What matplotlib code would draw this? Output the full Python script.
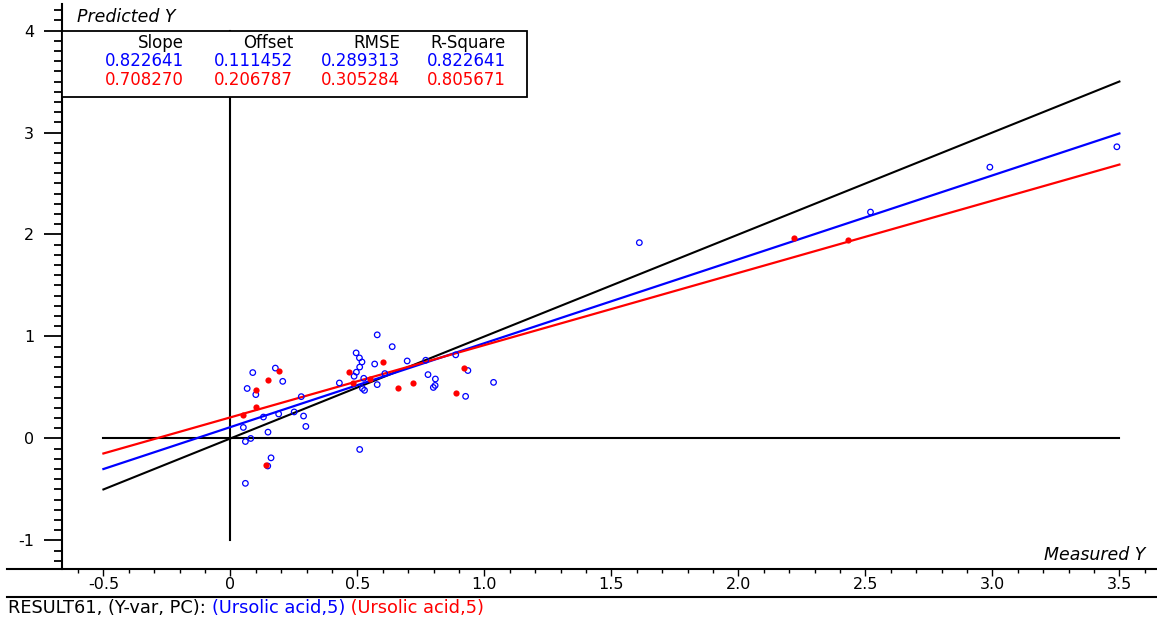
import matplotlib
matplotlib.use("Agg")
import matplotlib.pyplot as plt
import numpy as np
from matplotlib.patches import Rectangle
from matplotlib.lines import Line2D

plt.rcParams['font.family'] = ['DejaVu Sans']
plt.rcParams['axes.unicode_minus'] = False

# measured / predicted values, first series (blue, open circles)
blue_x = [0.088, 0.177, 0.206, 0.066, 0.10, 0.279, 0.13, 0.19, 0.251, 0.288,
          0.297, 0.051, 0.148, 0.059, 0.08, 0.16, 0.147, 0.059,
          0.578, 0.637, 0.495, 0.508, 0.518, 0.568, 0.509, 0.496, 0.487, 0.696,
          0.608, 0.525, 0.429, 0.578, 0.52, 0.528, 0.769, 0.778, 0.807, 0.799,
          0.806, 0.509, 0.935, 1.036, 0.926, 0.887,
          1.61, 2.52, 2.99, 3.49]
blue_y = [0.646, 0.69, 0.56, 0.49, 0.43, 0.41, 0.21, 0.24, 0.26, 0.22,
          0.118, 0.108, 0.062, -0.03, 0.0, -0.19, -0.27, -0.44,
          1.016, 0.90, 0.839, 0.79, 0.75, 0.73, 0.70, 0.65, 0.61, 0.76,
          0.636, 0.59, 0.544, 0.528, 0.49, 0.472, 0.767, 0.626, 0.583, 0.50,
          0.52, -0.108, 0.666, 0.55, 0.413, 0.82,
          1.92, 2.22, 2.66, 2.86]

# second series (red, filled dots)
red_x = [0.19, 0.147, 0.10, 0.10, 0.048, 0.14, 0.599, 0.467, 0.481, 0.549,
         0.658, 0.717, 0.918, 0.887, 2.22, 2.43]
red_y = [0.666, 0.57, 0.48, 0.31, 0.233, -0.265, 0.75, 0.656, 0.548, 0.583,
         0.495, 0.54, 0.688, 0.445, 1.97, 1.95]

# regression statistics
headers = ["Slope", "Offset", "RMSE", "R-Square"]
blue_stats = [0.822641, 0.111452, 0.289313, 0.822641]
red_stats = [0.708270, 0.206787, 0.305284, 0.805671]

x_ticks = [-0.5, 0, 0.5, 1.0, 1.5, 2.0, 2.5, 3.0, 3.5]
x_ticklabels = ["-0.5", "0", "0.5", "1.0", "1.5", "2.0", "2.5", "3.0", "3.5"]
y_ticks = [-1, 0, 1, 2, 3, 4]
y_ticklabels = ["-1", "0", "1", "2", "3", "4"]

FS = 11.5
W, H = 1157, 622
fig = plt.figure(figsize=(W / 100, H / 100), dpi=100)
ax = fig.add_axes([62 / W, 1 - 569 / H, 1 - 62 / W, (569 - 4) / H])
ax.set_xlim(-0.663, 3.648)
ax.set_ylim(-1.28, 4.26)

# target line, zero lines and regression lines
xl = np.array([-0.5, 3.5])
ax.plot(xl, xl, color='black', lw=1.5, zorder=2)
ax.plot(xl, [0, 0], color='black', lw=1.5, zorder=2)
ax.plot([0, 0], [-1, 4], color='black', lw=1.5, zorder=2)
ax.plot(xl, blue_stats[0] * xl + blue_stats[1], color='#0000ff', lw=1.6, zorder=3)
ax.plot(xl, red_stats[0] * xl + red_stats[1], color='#ff0000', lw=1.6, zorder=3)

ax.scatter(blue_x, blue_y, s=16, facecolors='none', edgecolors='#0000ff',
           linewidths=0.9, zorder=4)
ax.scatter(red_x, red_y, s=20, color='#ff0000', linewidths=0, zorder=5)

# axes styling
for s in ['top', 'right', 'bottom']:
    ax.spines[s].set_visible(False)
ax.spines['left'].set_linewidth(1.5)
ax.set_xticks(x_ticks)
ax.set_xticklabels(x_ticklabels)
ax.set_xticks(np.arange(-0.6, 3.65, 0.1), minor=True)
ax.set_yticks(y_ticks)
ax.set_yticklabels(y_ticklabels)
ax.set_yticks(np.arange(-1.2, 4.25, 0.1), minor=True)
ax.tick_params(axis='y', which='major', direction='out', length=13, width=1.3,
               labelsize=FS, pad=7)
ax.tick_params(axis='y', which='minor', direction='out', length=6, width=1.3)
ax.tick_params(axis='x', which='major', direction='out', length=5, width=1.0,
               labelsize=FS, pad=1)
ax.tick_params(axis='x', which='minor', direction='out', length=3, width=1.0)

# statistics box
ax.add_patch(Rectangle((-0.663, 3.35), 1.83, 0.65, facecolor='white',
                       edgecolor='black', lw=1.3, zorder=10, clip_on=False))
col_x = [-0.183, 0.246, 0.667, 1.085]
row_y = [3.88, 3.70, 3.51]
for cx, h, b, r in zip(col_x, headers, blue_stats, red_stats):
    ax.text(cx, row_y[0], h, ha='right', va='center', fontsize=12, zorder=11)
    ax.text(cx, row_y[1], f"{b:.6f}", ha='right', va='center', fontsize=12,
            color='#0000ff', zorder=11)
    ax.text(cx, row_y[2], f"{r:.6f}", ha='right', va='center', fontsize=12,
            color='#ff0000', zorder=11)

fig.text(77 / W, 1 - 17 / H, "Predicted Y", style='italic', fontsize=12.5,
         va='center', ha='left')
fig.text(1145 / W, 1 - 555 / H, "Measured Y", style='italic', fontsize=12.5,
         va='center', ha='right')

# frame lines at the bottom
fig.add_artist(Line2D([7 / W, 1], [1 - 569 / H, 1 - 569 / H], color='black', lw=1.5))
fig.add_artist(Line2D([7 / W, 1], [1 - 597 / H, 1 - 597 / H], color='black', lw=1.5))

# caption with coloured parts
fig.canvas.draw()
renderer = fig.canvas.get_renderer()
x0 = 8 / W
for txt, col in [("RESULT61, (Y-var, PC): ", 'black'),
                 ("(Ursolic acid,5)", '#0000ff'),
                 (" (Ursolic acid,5)", '#ff0000')]:
    t = fig.text(x0, 1 - 608 / H, txt, color=col, fontsize=12.8, va='center', ha='left')
    bb = t.get_window_extent(renderer)
    x0 = bb.x1 / W

fig.savefig("out.png", dpi=100)
